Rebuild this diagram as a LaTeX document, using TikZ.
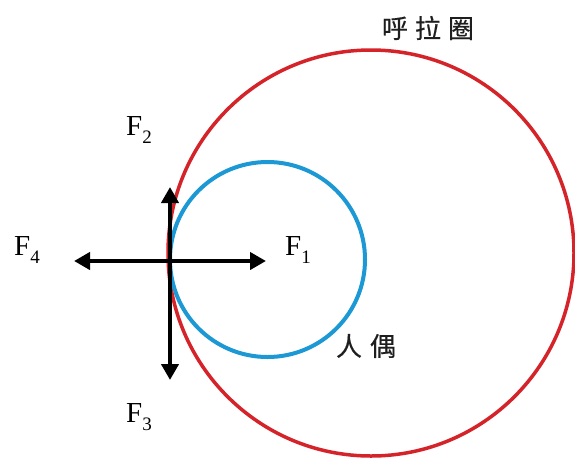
\documentclass[tikz,border=0pt]{standalone}
\usepackage{fontspec}
\setmainfont{Liberation Serif}
\newfontfamily\cjk[FakeBold=0.5]{Noto Sans CJK SC}
\usetikzlibrary{arrows.meta}
\definecolor{hoopred}{RGB}{212,36,42}
\definecolor{dollblue}{RGB}{28,152,212}
\definecolor{cjkgray}{RGB}{30,30,30}
\newcommand\fsubs[1]{\raisebox{-0.28em}{\fontsize{19}{19}\selectfont #1}}
\tikzset{
  forcearrow/.style={line width=4pt,-{Triangle[length=16pt,width=17pt]}},
  flabel/.style={font=\fontsize{29}{30}\selectfont,inner sep=0pt},
  cjklabel/.style={font=\cjk\fontsize{26}{28}\selectfont,text=cjkgray,inner sep=0pt}
}
\begin{document}
\begin{tikzpicture}[x=1pt,y=-1pt]
\useasboundingbox (0,0) rectangle (575,459);
% hoop and doll
\node[circle,draw=hoopred,line width=3.5pt,minimum size=406pt,inner sep=0pt] (hoop) at (371,253) {};
\node[circle,draw=dollblue,line width=4pt,minimum size=195pt,inner sep=0pt] (doll) at (267.5,259.5) {};
% force arrows
\coordinate (o) at (170,261);
\coordinate (t1) at (266,261);
\coordinate (t2) at (170,187);
\coordinate (t3) at (170,380);
\coordinate (t4) at (74,261);
\draw[forcearrow] (o) -- (t1);
\draw[forcearrow] (o) -- (t2);
\draw[forcearrow] (o) -- (t3);
\draw[forcearrow] (o) -- (t4);
% labels
\node[flabel] (f1) at (298,250) {F\fsubs{1}};
\node[flabel] (f2) at (139,130) {F\fsubs{2}};
\node[flabel] (f3) at (139,417) {F\fsubs{3}};
\node[flabel] (f4) at (27,250) {F\fsubs{4}};
\node[cjklabel] (hooplabel) at (428,28) {呼\hspace{7pt}拉\hspace{7pt}圈};
\node[cjklabel] (dolllabel) at (366,346) {人\hspace{8pt}偶};
\end{tikzpicture}
\end{document}
